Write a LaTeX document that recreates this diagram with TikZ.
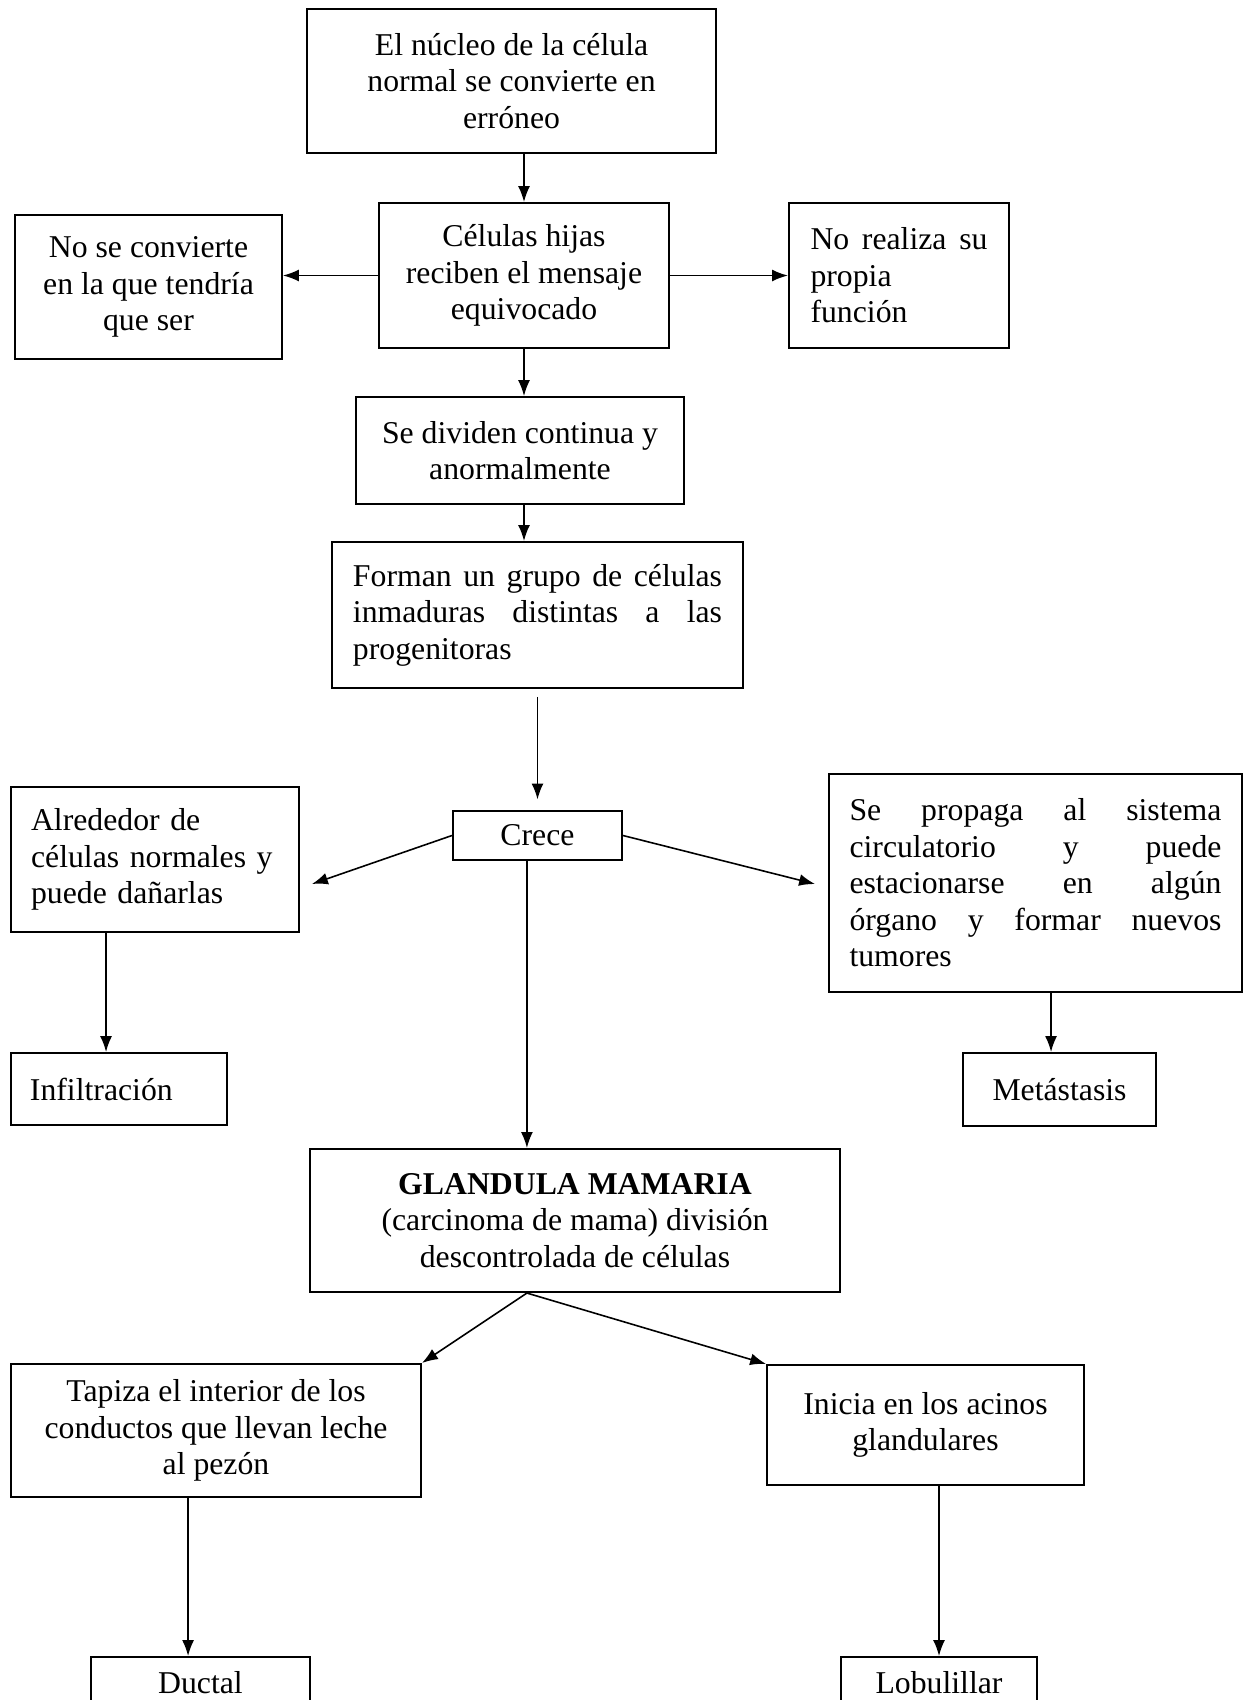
\documentclass[tikz,border=0pt]{standalone}
\usepackage{fontspec}
\setmainfont{Liberation Serif}
\usetikzlibrary{arrows.meta}
\hyphenpenalty=10000

\begin{document}
\begin{tikzpicture}[x=0.378pt,y=-0.378pt,>={Latex[length=6pt,width=4.5pt]},
  caja/.style={draw,line width=0.75pt,inner sep=0pt,align=center,font=\fontsize{12}{13.8}\selectfont},
  flecha/.style={line width=0.6pt}]
  \path[use as bounding box] (0,0) rectangle (1252,1700);
  \clip (0,0) rectangle (1252,1700);

  % top part
  \node[caja,minimum width=154.6pt,minimum height=54.4pt] (nucleo) at (511.5,81)
    {El núcleo de la célula\\normal se convierte en\\erróneo};
  \node[caja,minimum width=109.6pt,minimum height=54.8pt] (hijas) at (524,275.5)
    {Células hijas\\reciben el mensaje\\equivocado};
  \node[caja,minimum width=100.9pt,minimum height=54.4pt] (noconv) at (148.5,287)
    {No se convierte\\en la que tendría\\que ser};
  \node[caja,minimum width=83.2pt,minimum height=54.8pt,text width=66.9pt,align=justify] (norealiza) at (899,275.5)
    {No realiza su\linebreak propia\linebreak función};
  \node[caja,minimum width=124pt,minimum height=40.4pt] (dividen) at (520,450.5)
    {Se dividen continua y\\anormalmente};
  \node[caja,minimum width=155.4pt,minimum height=55.2pt,text width=139.5pt,align=justify] (forman) at (537.5,615)
    {Forman un grupo de células\linebreak inmaduras distintas a las\linebreak progenitoras};

  % middle part
  \node[caja,minimum width=63.9pt,minimum height=18.5pt] (crece) at (537.5,835.5) {Crece};
  \node[caja,minimum width=108.9pt,minimum height=54.8pt,text width=93.7pt,align=left] (alrededor) at (155,859.5)
    {Alrededor de\\células normales y\\puede dañarlas};
  \node[caja,minimum width=156.1pt,minimum height=82.4pt,text width=140.6pt,align=justify] (propaga) at (1035.5,883)
    {Se propaga al sistema\linebreak circulatorio y puede\linebreak estacionarse en algún\linebreak órgano y formar nuevos\linebreak tumores};
  \node[caja,minimum width=81.6pt,minimum height=27.2pt,text width=67.3pt,align=left] (infil) at (119,1089) {Infiltración};
  \node[caja,minimum width=73pt,minimum height=27.6pt] (metas) at (1059.5,1089.5) {Metástasis};

  % bottom part
  \node[caja,minimum width=200.3pt,minimum height=54.1pt] (glandula) at (575,1220.5)
    {\textbf{GLANDULA MAMARIA}\\(carcinoma de mama) división\\descontrolada de células};
  \node[caja,minimum width=155pt,minimum height=50.3pt] (tapiza) at (216,1430.5)
    {Tapiza el interior de los\\conductos que llevan leche\\al pezón};
  \node[caja,minimum width=119.8pt,minimum height=45.4pt] (inicia) at (925.5,1425)
    {Inicia en los acinos\\glandulares};
  \node[caja,minimum width=82.8pt,minimum height=19pt,anchor=north] (ductal) at (200.5,1656) {Ductal};
  \node[caja,minimum width=74.1pt,minimum height=19pt,anchor=north] (lobul) at (939,1656) {Lobulillar};

  \coordinate (pL) at (312,884);
  \coordinate (pR) at (815,884);
  \coordinate (eje) at ([xshift=-4pt]crece.south);
  \coordinate (pie) at (eje |- glandula.south);

  \path[->,flecha]
    (nucleo.south -| hijas) edge (hijas)
    (hijas.west) edge (hijas.west -| noconv.east)
    (hijas.east) edge (hijas.east -| norealiza.west)
    (hijas.south) edge (hijas.south |- dividen.north)
    (hijas.south |- dividen.south) edge (hijas.south |- forman.north)
    (forman) edge[shorten <=3pt,shorten >=4pt] (crece)
    (crece.west) edge (pL)
    (crece.east) edge (pR)
    (eje) edge (eje |- glandula.north)
    ([xshift=-4.9pt]infil.north |- alrededor.south) edge ([xshift=-4.9pt]infil.north)
    ([xshift=-3.2pt]metas.north |- propaga.south) edge ([xshift=-3.2pt]metas.north)
    (pie) edge (tapiza.north east)
    (pie) edge (inicia.north west)
    ([xshift=-4.7pt]ductal.north |- tapiza.south) edge ([xshift=-4.7pt]ductal.north)
    (lobul.north |- inicia.south) edge (lobul.north)
	;
\end{tikzpicture}
\end{document}
